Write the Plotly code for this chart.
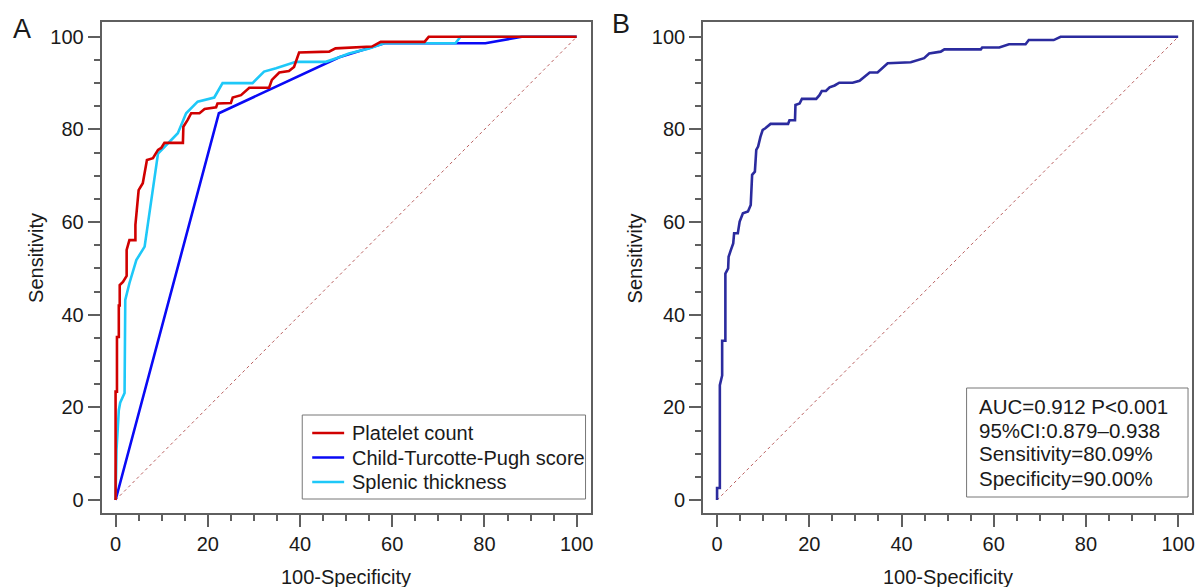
import plotly.graph_objects as go
from plotly.subplots import make_subplots

# ---- Panel A: ROC curves of three predictors ----
platelet_fpr = [0, 0, 0.3, 0.3, 0.7, 0.7, 0.9, 0.9, 1.6, 2.4, 2.4, 3.0, 4.3, 4.3, 4.6, 5.0,
                5.9, 6.3, 6.8, 8.1, 9.2, 9.9, 10.6, 14.6, 14.7, 15.6, 16.4, 18.2, 19.3, 21.8,
                22.1, 25.0, 25.4, 27.2, 29.0, 33.3, 33.9, 35.5, 37.6, 38.7, 39.8, 46.3, 47.7,
                55.6, 57.5, 67.0, 67.9, 100]
platelet_tpr = [0, 23.4, 23.4, 35.2, 35.2, 42.0, 42.0, 46.4, 47.1, 48.4, 54.0, 56.1, 56.1, 59.4,
                62.6, 66.9, 68.4, 70.6, 73.4, 73.8, 75.6, 76.0, 77.1, 77.1, 80.6, 82.0, 83.5,
                83.5, 84.4, 84.8, 85.6, 85.7, 86.9, 87.4, 89.0, 89.0, 90.7, 92.3, 92.6, 93.5,
                96.6, 96.8, 97.5, 97.9, 98.9, 98.9, 100, 100]

ctp_fpr = [0, 22.4, 48.5, 58.3, 80.2, 88.1, 100]
ctp_tpr = [0, 83.5, 95.6, 98.6, 98.6, 100, 100]

spleen_fpr = [0, 0.2, 0.7, 1.0, 1.95, 2.1, 3.0, 4.5, 6.3, 7.0, 8.1, 9.2, 13.5, 15.3, 17.8,
              21.4, 23.2, 29.7, 32.2, 34.8, 39.1, 45.6, 48.5, 50.6, 55.0, 58.2, 73.7, 74.8, 100]
spleen_tpr = [0, 10.8, 19.4, 21.0, 23.1, 43.2, 46.8, 51.8, 54.7, 59.8, 67.6, 74.8, 79.2, 83.5,
              86.0, 86.9, 90.0, 90.0, 92.5, 93.2, 94.6, 94.6, 95.6, 96.4, 97.5, 98.6, 98.6,
              100, 100]

# ---- Panel B: combined model ROC ----
combo_fpr = [0, 0, 0.6, 0.6, 1.1, 1.1, 1.8, 1.8, 2.4, 2.5, 3.0, 3.5, 3.7, 4.5, 4.9, 5.6, 6.7,
             7.3, 7.6, 8.2, 8.5, 8.9, 9.4, 9.9, 10.4, 11.6, 15.4, 15.7, 16.9, 17.0, 17.9, 18.4,
             21.5, 22.2, 22.7, 23.6, 24.4, 25.5, 26.5, 29.4, 30.9, 32.0, 33.1, 34.8, 37.0,
             42.0, 44.9, 46.0, 48.5, 49.3, 57.2, 57.5, 61.2, 63.3, 66.9, 67.6, 73.0, 74.5, 100]
combo_tpr = [0, 2.6, 2.6, 24.8, 26.9, 34.4, 34.4, 48.9, 50.0, 52.5, 54.0, 55.4, 57.6, 57.6,
             60.1, 61.9, 62.3, 63.7, 70.2, 70.9, 75.6, 76.3, 78.4, 79.9, 80.2, 81.2, 81.2,
             82.0, 82.0, 85.3, 85.6, 86.6, 86.6, 87.4, 88.3, 88.3, 89.1, 89.5, 90.1, 90.1,
             90.5, 91.5, 92.3, 92.3, 94.3, 94.5, 95.4, 96.4, 96.8, 97.3, 97.3, 97.7, 97.7,
             98.4, 98.4, 99.3, 99.3, 100, 100]

chance = [0, 100]
series_names = ["Platelet count", "Child-Turcotte-Pugh score", "Splenic thickness"]
series_colors = ["#d00000", "#0a0af5", "#1ec8f8"]
stats_lines = ["AUC=0.912 P<0.001", "95%CI:0.879\u20130.938",
               "Sensitivity=80.09%", "Specificity=90.00%"]

W, H = 1203, 587
FONT = "Liberation Sans, Arial, Helvetica, sans-serif"
AX = "#5f5f5f"
TXT = "#1a1a1a"
X_RANGE = [-3, 103]
Y_RANGE = [-2.8, 103.2]


def px_x(p):
    return p / W


def px_y(p):
    return (H - p) / H


fig = make_subplots(rows=1, cols=2)

diag_style = dict(color="rgb(185,95,95)", width=1, dash="dot")
for col in (1, 2):
    fig.add_trace(go.Scatter(x=chance, y=chance, mode="lines", line=diag_style,
                             showlegend=False, hoverinfo="skip"), row=1, col=col)

# draw order: CTP underneath, then splenic, then platelet on top
for idx, (fx, ty) in ((1, (ctp_fpr, ctp_tpr)), (2, (spleen_fpr, spleen_tpr)),
                      (0, (platelet_fpr, platelet_tpr))):
    fig.add_trace(go.Scatter(x=fx, y=ty, mode="lines", name=series_names[idx],
                             line=dict(color=series_colors[idx], width=2.6),
                             showlegend=False), row=1, col=1)
fig.add_trace(go.Scatter(x=combo_fpr, y=combo_tpr, mode="lines", showlegend=False,
                         line=dict(color="#2b2b9e", width=2.6)), row=1, col=2)

common = dict(showline=True, linecolor=AX, linewidth=2, mirror=True,
              ticks="outside", ticklen=12, tickwidth=2, tickcolor=AX,
              tick0=0, dtick=20,
              minor=dict(ticks="outside", dtick=5, ticklen=6, tickwidth=1.5,
                         tickcolor=AX, showgrid=False),
              showgrid=False, zeroline=False,
              tickfont=dict(family=FONT, size=20, color=TXT))
fig.update_xaxes(range=X_RANGE, **common)
fig.update_yaxes(range=Y_RANGE, **common)
fig.update_layout(
    width=W, height=H,
    margin=dict(l=0, r=0, t=0, b=0),
    paper_bgcolor="white", plot_bgcolor="white",
    xaxis=dict(domain=[px_x(102), px_x(592)]),
    xaxis2=dict(domain=[px_x(705), px_x(1195)]),
    yaxis=dict(domain=[px_y(513), px_y(22)]),
    yaxis2=dict(domain=[px_y(513), px_y(22)]),
    showlegend=False,
)


def label(text, x, y, size=20, **kw):
    return dict(text=text, x=px_x(x), y=px_y(y), xref="paper", yref="paper",
                xanchor=kw.pop("xanchor", "center"), yanchor="middle",
                showarrow=False, font=dict(family=FONT, size=size, color=TXT), **kw)


ann = [label("A", 22, 29, size=27), label("B", 623, 24, size=27)]
for cx in (347, 950):
    ann.append(label("100-Specificity", cx, 577))
for cx in (36, 637):
    ann.append(label("Sensitivity", cx, 258, textangle=-90))

# legend of panel A: frame, colour keys and names
shapes = [dict(type="rect", xref="paper", yref="paper", opacity=1,
               x0=px_x(303), x1=px_x(587), y0=px_y(499), y1=px_y(415),
               line=dict(color="#777777", width=1), fillcolor="white", layer="above")]
for i, (name, col) in enumerate(zip(series_names, series_colors)):
    ry = 433 + 24.5 * i
    shapes.append(dict(type="line", xref="paper", yref="paper", opacity=1,
                       x0=px_x(313), x1=px_x(345), y0=px_y(ry), y1=px_y(ry),
                       line=dict(color=col, width=2.6), layer="above"))
    ann.append(label(name, 351, ry, xanchor="left"))

# statistics box of panel B
shapes.append(dict(type="rect", xref="paper", yref="paper", opacity=1,
                   x0=px_x(969), x1=px_x(1191), y0=px_y(497), y1=px_y(388),
                   line=dict(color="#777777", width=1), fillcolor="rgba(0,0,0,0)"))
for i, line in enumerate(stats_lines):
    ann.append(label(line, 979, 406 + 24 * i, size=20.5, xanchor="left"))

fig.update_layout(annotations=ann, shapes=shapes)

fig.write_html("out.html")
